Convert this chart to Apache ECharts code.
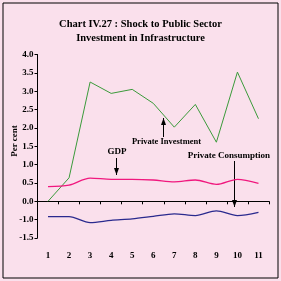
<!DOCTYPE html>
<html><head><meta charset="utf-8">
<script src="https://cdn.jsdelivr.net/npm/echarts@6/dist/echarts.min.js"></script>
<style>html,body{margin:0;padding:0;background:#fae0ec;}#c{width:281px;height:281px;}</style>
</head><body><div id="c"></div>
<script>
const categories = ['1','2','3','4','5','6','7','8','9','10','11'];
const privateInvestment = [0.0, 0.64, 3.25, 2.94, 3.05, 2.67, 2.02, 2.64, 1.61, 3.52, 2.25];
const gdp = [0.40, 0.44, 0.63, 0.60, 0.60, 0.58, 0.53, 0.58, 0.46, 0.60, 0.49];
const privateConsumption = [-0.42, -0.42, -0.58, -0.52, -0.48, -0.41, -0.34, -0.39, -0.26, -0.39, -0.30];
const yTickLabels = ['-1.5','-1.0','0.0','0.5','1.0','1.5','2.0','2.5','3.0','3.5','4.0'];

const F = 'Liberation Serif';
const chart = echarts.init(document.getElementById('c'), null, {renderer:'canvas'});
function arrow(x, y1, y2, up) {
  const tip = up ? y1 : y2;
  const d = up ? 1 : -1;
  return [
    {type:'line', shape:{x1:x, y1:y1, x2:x, y2:y2}, style:{stroke:'#000', lineWidth:1}},
    {type:'polygon', shape:{points:[[x, tip],[x-2.5, tip + d*7],[x+2.5, tip + d*7]]}, style:{fill:'#000'}}
  ];
}
chart.setOption({
  backgroundColor: 'transparent',
  animation: false,
  title: {
    text: 'Chart IV.27 : Shock to Public Sector\nInvestment in Infrastructure',
    left: 'center', top: 12,
    textStyle: {fontFamily: F, fontWeight: 'bold', fontSize: 10.5, color: '#000', lineHeight: 14}
  },
  grid: {left: 37.5, right: 12, top: 54.5, bottom: 43, containLabel: false, outerBoundsMode: 'none'},
  xAxis: [{
    type: 'category', data: categories, boundaryGap: true,
    axisLine: {onZero: true, lineStyle: {color: '#000', width: 1}},
    axisTick: {show: true, length: 3, alignWithLabel: false, lineStyle: {color: '#000'}},
    axisLabel: {show: false}
  }, {
    type: 'category', data: categories, boundaryGap: true, position: 'bottom',
    axisLine: {show: false, onZero: false},
    axisTick: {show: false},
    axisLabel: {margin: 13, fontFamily: F, fontWeight: 'bold', fontSize: 9, color: '#000'}
  }],
  yAxis: {
    type: 'value', min: -1, max: 4, interval: 0.5,
    axisLine: {show: true, lineStyle: {color: '#000', width: 1}},
    axisTick: {show: true, length: 3, lineStyle: {color: '#000'}},
    splitLine: {show: false},
    axisLabel: {margin: 4, fontFamily: F, fontWeight: 'bold', fontSize: 9, color: '#000',
      formatter: v => yTickLabels[Math.round((v + 1) / 0.5)]}
  },
  series: [
    {name: 'Private Investment', type: 'line', data: privateInvestment, symbol: 'none',
     lineStyle: {color: '#3a9a3a', width: 1}},
    {name: 'GDP', type: 'line', data: gdp, symbol: 'none', smooth: 0.3,
     lineStyle: {color: '#f0187e', width: 1.3}},
    {name: 'Private Consumption', type: 'line', data: privateConsumption, symbol: 'none', smooth: 0.3,
     lineStyle: {color: '#2a2a8e', width: 1.3}}
  ],
  graphic: [
    {type:'rect', shape:{x:3, y:3, width:275, height:275}, style:{fill:'none', stroke:'#000', lineWidth:1}},
    {type:'text', x:14.5, y:141, rotation: Math.PI/2, style:{text:'Per cent', font:'bold 9px "Liberation Serif"', fill:'#000', align:'center', verticalAlign:'middle'}},
    {type:'text', x:117, y:152, style:{text:'GDP', font:'bold 9px "Liberation Serif"', fill:'#000', align:'center', verticalAlign:'middle'}},
    ...arrow(116.5, 158, 175, false),
    {type:'text', x:166.5, y:141.5, style:{text:'Private Investment', font:'bold 8.5px "Liberation Serif"', fill:'#000', align:'center', verticalAlign:'middle'}},
    ...arrow(163.5, 118, 137, true),
    {type:'text', x:229, y:155.5, style:{text:'Private Consumption', font:'bold 9px "Liberation Serif"', fill:'#000', align:'center', verticalAlign:'middle'}},
    ...arrow(234.5, 161, 207, false)
  ]
});
</script></body></html>
